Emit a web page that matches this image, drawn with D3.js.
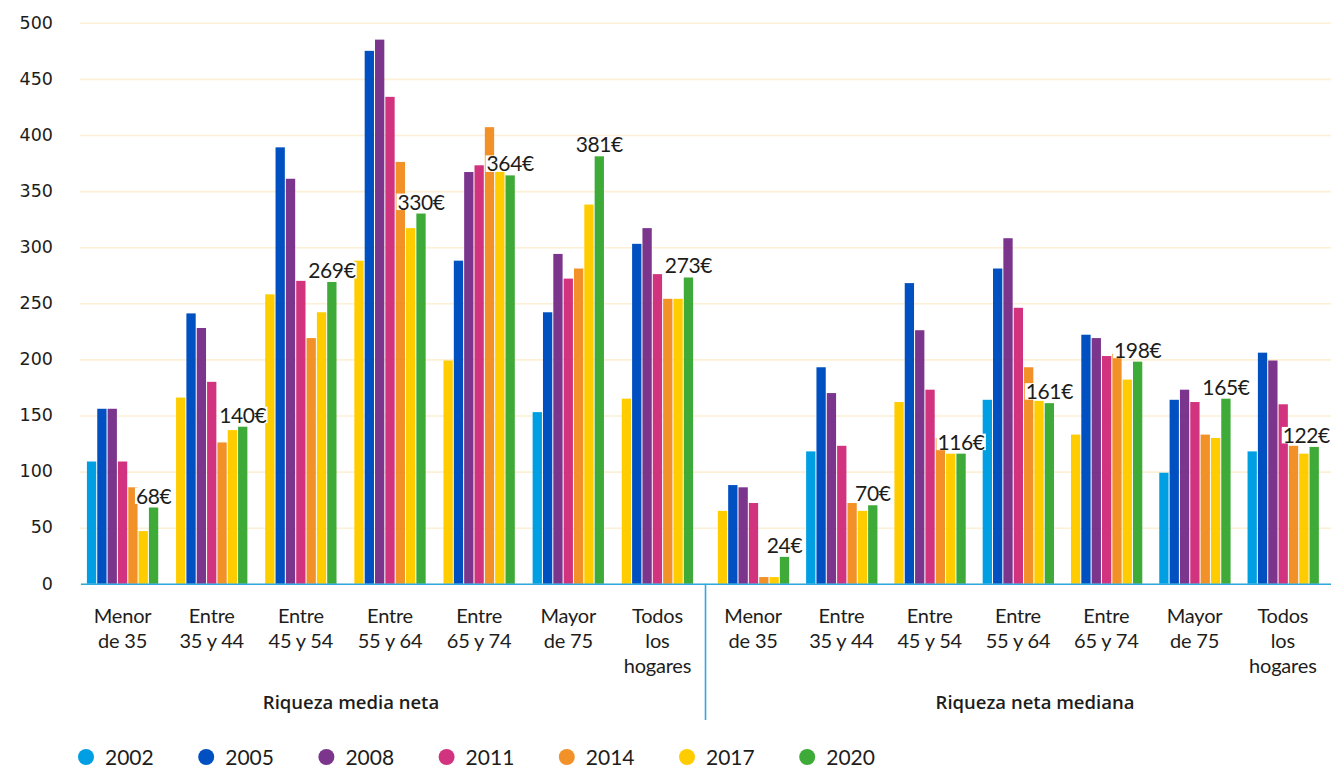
<!DOCTYPE html>
<html lang="es">
<head>
<meta charset="utf-8">
<script src="https://cdn.jsdelivr.net/npm/d3@7"></script>
<style>
  html, body { margin: 0; padding: 0; background: #ffffff; }
  svg { display: block; }
  text { font-family: Lato, "Open Sans", sans-serif; fill: #1d1d1b; }
</style>
</head>
<body>
<svg id="chart" width="1331" height="769"></svg>
<script>
// Age-group categories (line breaks kept for the axis labels)
const ageGroups = [
  ["Menor", "de 35"],
  ["Entre", "35 y 44"],
  ["Entre", "45 y 54"],
  ["Entre", "55 y 64"],
  ["Entre", "65 y 74"],
  ["Mayor", "de 75"],
  ["Todos", "los", "hogares"]
];
const measures = ["Riqueza media neta", "Riqueza neta mediana"];
const years = ["2002", "2005", "2008", "2011", "2014", "2017", "2020"];

// Net wealth by survey year (thousand €): first 7 = media, last 7 = mediana
const v2002 = [109, 166, 258, 288, 199, 153, 165,   65, 118, 162, 164, 133,  99, 118];
const v2005 = [156, 241, 389, 475, 288, 242, 303,   88, 193, 268, 281, 222, 164, 206];
const v2008 = [156, 228, 361, 485, 367, 294, 317,   86, 170, 226, 308, 219, 173, 199];
const v2011 = [109, 180, 270, 434, 373, 272, 276,   72, 123, 173, 246, 203, 162, 160];
const v2014 = [ 86, 126, 219, 376, 407, 281, 254,    6,  72, 130, 193, 205, 133, 123];
const v2017 = [ 47, 137, 242, 317, 370, 338, 254,    6,  65, 116, 163, 182, 130, 116];
const v2020 = [ 68, 140, 269, 330, 364, 381, 273,   24,  70, 116, 161, 198, 165, 122];
const seriesValues = [v2002, v2005, v2008, v2011, v2014, v2017, v2020];

const yTicks = [0, 50, 100, 150, 200, 250, 300, 350, 400, 450, 500];

// Styling
const yearColors = ["#009fe3", "#0050c1", "#7b358c", "#d2337f", "#f29128", "#ffcc00", "#3eaa38"];
// The 2002 bar is drawn in the 2017 yellow in several groups
const fill2002 = [
  "#009fe3", "#ffcc00", "#ffcc00", "#ffcc00", "#ffcc00", "#009fe3", "#ffcc00",
  "#ffcc00", "#009fe3", "#ffcc00", "#009fe3", "#ffcc00", "#009fe3", "#009fe3"
];

const svg = d3.select("#chart");
const W = 1331;
const y0px = 583.8, y500px = 22.8;
const gridLeft = 80;

const y = d3.scaleLinear().domain([0, 500]).range([y0px, y500px]);

// One band scale per panel
const panelRanges = [[78, 702], [709, 1327]];
const groupIdx = d3.range(ageGroups.length);
const xPanels = panelRanges.map(r =>
  d3.scaleBand().domain(groupIdx).range(r).paddingInner(0.2).paddingOuter(0.1)
);
const x1 = d3.scaleBand().domain(years).range([0, xPanels[0].bandwidth()]).paddingInner(0.1);

// Grid + y tick labels
const yAxis = d3.axisLeft(y).tickValues(yTicks).tickSize(-(W - gridLeft)).tickPadding(27);
const gy = svg.append("g").attr("transform", `translate(${gridLeft},0)`).call(yAxis);
gy.select(".domain").remove();
gy.selectAll(".tick line").attr("stroke", "#fcf0d6").attr("stroke-width", 1.6);
gy.selectAll(".tick text")
  .style("font-family", "'DejaVu Sans', sans-serif")
  .style("font-size", "17.5px")
  .attr("fill", "#1d1d1b")
  .attr("dy", "0.3em");

// Bars
const rows = [];
measures.forEach((m, p) => {
  groupIdx.forEach(g => {
    const k = p * ageGroups.length + g;
    years.forEach((yr, s) => {
      rows.push({ panel: p, group: g, year: yr, s, k, value: seriesValues[s][k] });
    });
  });
});

svg.append("g").selectAll("rect")
  .data(rows)
  .join("rect")
  .attr("x", d => xPanels[d.panel](d.group) + x1(d.year))
  .attr("y", d => y(d.value))
  .attr("width", x1.bandwidth())
  .attr("height", d => y(0) - y(d.value))
  .attr("fill", d => d.s === 0 ? fill2002[d.k] : yearColors[d.s]);

// Value labels above the 2020 bars (kept inside the right edge)
const labelRows = rows.filter(d => d.year === "2020");
const lg = svg.append("g").selectAll("g").data(labelRows).join("g");
lg.append("text")
  .attr("text-anchor", "middle")
  .style("font-size", "21px")
  .style("letter-spacing", "-0.4px")
  .text(d => d.value + "€");
lg.each(function (d) {
  const grp = d3.select(this);
  const b = grp.select("text").node().getBBox();
  let cx = xPanels[d.panel](d.group) + x1(d.year) + x1.bandwidth() / 2;
  if (cx + b.width / 2 > W - 1) cx = W - 1 - b.width / 2;
  grp.attr("transform", `translate(${cx},${y(d.value) - 4})`);
  grp.insert("rect", "text")
    .attr("x", b.x - 1).attr("y", -16)
    .attr("width", b.width + 2).attr("height", 16.5)
    .attr("fill", "#ffffff");
});

// Baseline and panel divider
svg.append("line")
  .attr("x1", 81).attr("x2", W).attr("y1", y(0) + 0.5).attr("y2", y(0) + 0.5)
  .attr("stroke", "#2ea9e0").attr("stroke-width", 1.6);
svg.append("line")
  .attr("x1", 705.5).attr("x2", 705.5).attr("y1", y(0)).attr("y2", 720)
  .attr("stroke", "#2ea9e0").attr("stroke-width", 1.6);

// Category axes (multi-line labels)
xPanels.forEach(xp => {
  const ax = d3.axisBottom(xp).tickSize(0).tickFormat("");
  const gx = svg.append("g").attr("transform", `translate(0,${y(0)})`).call(ax);
  gx.select(".domain").remove();
  gx.selectAll(".tick").each(function (g) {
    const t = d3.select(this).append("text")
      .attr("text-anchor", "middle")
      .style("font-size", "20px")
      .style("letter-spacing", "-0.2px")
      .attr("fill", "#1d1d1b");
    ageGroups[g].forEach((line, i) => {
      t.append("tspan").attr("x", 0).attr("y", 39 + i * 25).text(line);
    });
  });
});

// Panel titles
const titleX = [351, 1035];
measures.forEach((m, p) => {
  svg.append("text")
    .attr("x", titleX[p]).attr("y", 709)
    .attr("text-anchor", "middle")
    .style("font-family", "'Open Sans', sans-serif")
    .style("font-size", "18.5px")
    .style("font-weight", "600")
    .text(m);
});

// Legend
const leg = svg.append("g").selectAll("g").data(years).join("g")
  .attr("transform", (d, i) => `translate(${86 + i * 120.2},757)`);
leg.append("circle").attr("r", 8).attr("fill", (d, i) => yearColors[i]);
leg.append("text").attr("x", 19).attr("y", 7.5)
  .style("font-size", "21px")
  .text(d => d);
</script>
</body>
</html>
